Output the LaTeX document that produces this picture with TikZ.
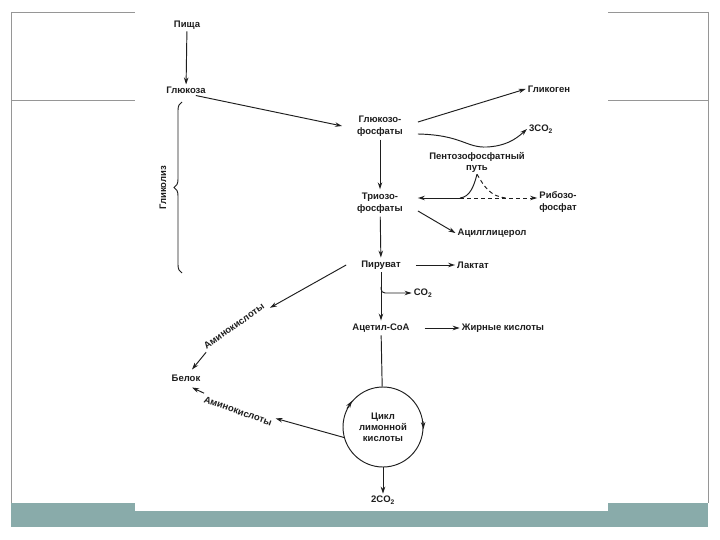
\documentclass[tikz,border=0pt]{standalone}
\usepackage{fontspec}
\setmainfont{Liberation Sans}
\usetikzlibrary{arrows.meta,calc,decorations.pathreplacing}
\definecolor{slideteal}{RGB}{137,171,170}
\definecolor{slidegray}{RGB}{150,150,150}
\definecolor{ink}{RGB}{30,30,30}

\begin{document}
\begin{tikzpicture}[x=1pt,y=-1pt,
    font=\fontsize{9.5}{12.5}\selectfont\bfseries,
    every node/.style={text=ink, inner sep=2pt},
    mid/.style={align=center, inner xsep=15pt, inner ysep=3pt},
    side/.style={align=center, inner sep=2pt},
    tight/.style={font=\fontsize{9.5}{11}\selectfont\bfseries},
    line/.style={draw=ink, line width=0.95pt},
    arr/.style={line, -{Stealth[length=7pt,width=4.5pt]}},
    slideline/.style={draw=slidegray, line width=0.6pt}]
    \useasboundingbox (0,0) rectangle (720,540);

    % slide behind the scan
    \fill[white] (0,0) rectangle (720,540);
    \draw[slideline] (11,12) -- (708,12) (11,100) -- (708,100);
    \draw[slideline] (11,12) -- (11,503) (708,12) -- (708,503);
    \fill[slideteal] (11,503) rectangle (708,527);
    \fill[white] (135,0) rectangle (608,511);

    \node (pishcha) at (187,25) {Пища};
    \node (glukoza) at (186,90) {Глюкоза};
    \node[mid] (gf) at (380,126) {Глюкозо-\\фосфаты};
    \node[side] (glikogen) at (549,89) {Гликоген};
    \node[side] (co2a) at (541,129) {3CO\textsubscript{2}};
    \node[side,tight] (pentoza) at (477,162) {Пентозофосфатный\\путь};
    \node[mid] (triozo) at (380,203) {Триозо-\\фосфаты};
    \node[side] (ribozo) at (558,202) {Рибозо-\\фосфат};
    \node[side] (acil) at (492,233) {Ацилглицерол};
    \node[mid] (piruvat) at (381,265) {Пируват};
    \node[side] (laktat) at (473,265) {Лактат};
    \node[side] (co2b) at (423,293) {CO\textsubscript{2}};
    \node[mid] (acetil) at (381,328) {Ацетил-CoA};
    \node[side] (zhirnye) at (503,328) {Жирные кислоты};
    \node[draw=ink, line width=0.95pt, circle, minimum size=80pt, inner sep=0pt,
          align=center, tight] (cikl) at (383,427) {Цикл\\лимонной\\кислоты};
    \node (co2c) at (383,500) {2CO\textsubscript{2}};
    \node (belok) at (186,378) {Белок};
    \node[rotate=35] (amino1) at (234,326) {Аминокислоты};
    \node[rotate=-19.4] (amino2) at (238,411) {Аминокислоты};
    \node[rotate=90] (glikoliz) at (163,188) {Гликолиз};

    \coordinate (split) at (460,198);
    \coordinate (rejoin) at (507,198);

    \draw[arr] (pishcha) -- (glukoza);
    \draw[arr] ([xshift=-12pt]glukoza.south east) -- (gf.west);
    \draw[arr] ([yshift=4pt]gf.east) -- (glikogen.west);
    \draw[arr] ([yshift=-8pt]gf.east) .. controls (462,135) and (466,148) .. (487,147)
        .. controls (505,146) and (515,140) .. (co2a.west);
    \draw[arr] (gf) -- (triozo);
    % pentose phosphate shunt
    \draw[arr] (split) -- (triozo.east |- split);
    \draw[arr, dash pattern=on 4pt off 3pt] (split) -- (ribozo.west |- split);
    \draw[line] (split) .. controls (470,197) and (474,186) .. (pentoza.south);
    \draw[line, dash pattern=on 4pt off 3pt] (pentoza.south)
        .. controls (484,186) and (490,197) .. (rejoin);
    \draw[arr] ([yshift=-8pt]triozo.east) -- (acil.west);
    \draw[arr] (triozo) -- (piruvat);
    \draw[arr] (piruvat) -- (laktat);
    \draw[arr] (piruvat) -- (acetil);
    \draw[arr, rounded corners=4pt] ($(piruvat.south)!0.3!(acetil.north)$) |- (co2b.west);
    \draw[arr] (acetil) -- (zhirnye);
    \draw[line] (acetil) -- (cikl);
    \draw[arr] (cikl.8) -- (cikl.-3);
    \draw[arr] (cikl.153) -- (cikl.140);
    \draw[arr] (cikl) -- (co2c);
    % amino acids to protein
    \draw[arr, shorten >=2pt] (piruvat.west) -- (amino1.south east);
    \draw[arr] (amino1.south west) -- ([xshift=6pt,yshift=3pt]belok.north);
    \draw[arr] (cikl.195) -- (amino2.north east);
    \draw[arr] (amino2.north west) -- ([xshift=6pt,yshift=-4pt]belok.south);
    \draw[line, decorate, decoration={brace, amplitude=8pt}] (182,273) -- (182,102);
\end{tikzpicture}
\end{document}
